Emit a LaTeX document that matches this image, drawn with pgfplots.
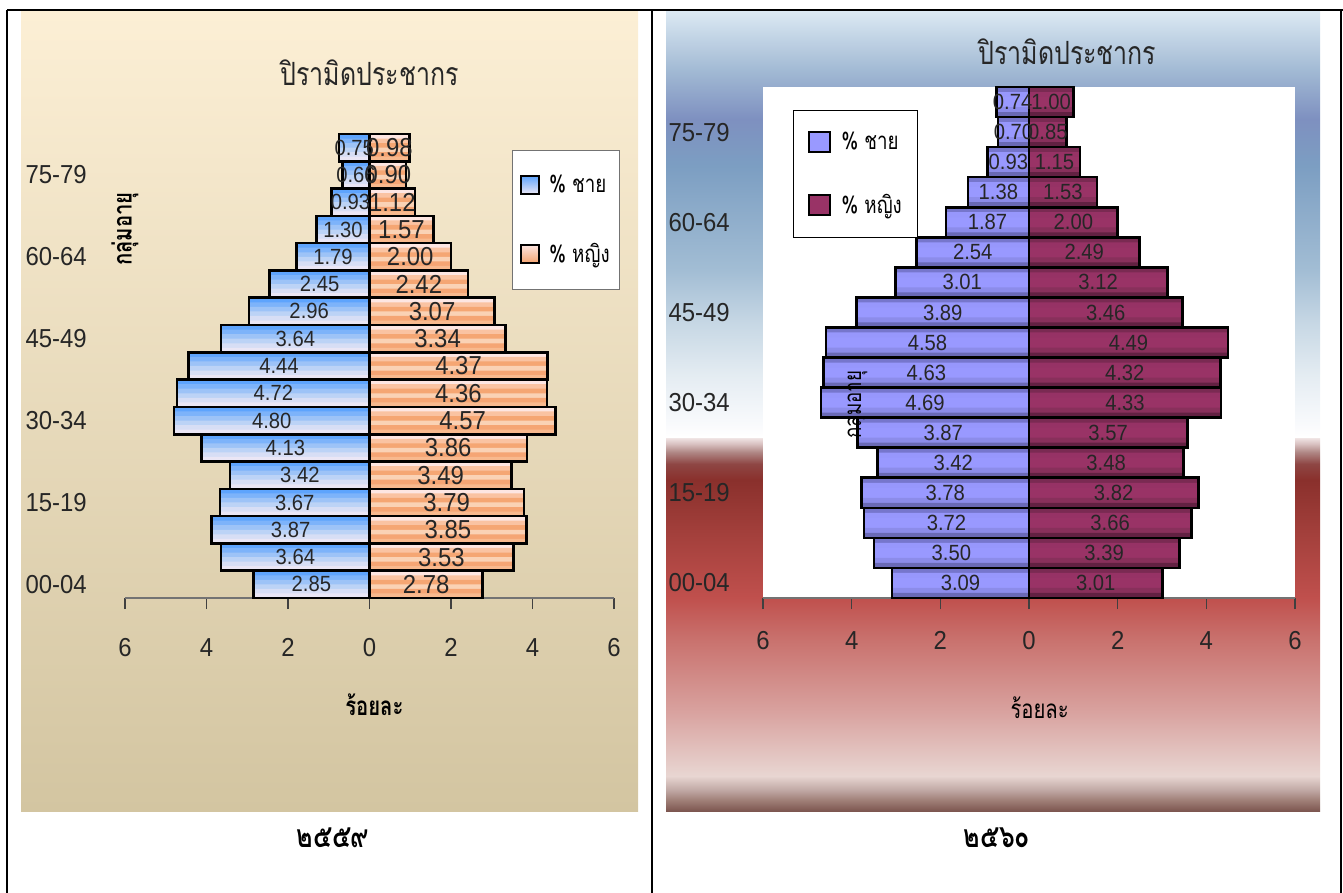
\documentclass[border=0pt]{standalone}
\usepackage{fontspec}
\usepackage{pgfplots}
\usepackage{pgfplotstable}
\pgfplotsset{compat=1.18}
\setmainfont{Liberation Sans}[FakeStretch=0.92]
\newfontfamily\thai[Script=Thai,FakeStretch=0.78]{Loma}

% left background / bars (2559)
\definecolor{lbgT}{HTML}{FCEFD5}
\definecolor{lbgB}{HTML}{D3C5A1}
\definecolor{lmA}{HTML}{5EA4FD}\definecolor{lmB}{HTML}{7DB3FA}\definecolor{lmC}{HTML}{9DC3F7}
\definecolor{lmD}{HTML}{BCD3F6}\definecolor{lmE}{HTML}{D7DEF5}\definecolor{lmF}{HTML}{EAE6F5}
\definecolor{lfA}{HTML}{FDE6E2}\definecolor{lfB}{HTML}{FAC3A2}\definecolor{lfC}{HTML}{F5A673}
\definecolor{lfD}{HTML}{FAD2B5}\definecolor{lfE}{HTML}{F5A574}\definecolor{lfF}{HTML}{F8B98E}
% right (2560)
\definecolor{rmA}{HTML}{7676CC}\definecolor{rmB}{HTML}{9797FC}\definecolor{rmC}{HTML}{9999FF}
\definecolor{rmD}{HTML}{9999FF}\definecolor{rmE}{HTML}{8C8CEA}\definecolor{rmF}{HTML}{6A6AB6}
\definecolor{rfA}{HTML}{7A2A52}\definecolor{rfB}{HTML}{963265}\definecolor{rfC}{HTML}{993366}
\definecolor{rfD}{HTML}{993366}\definecolor{rfE}{HTML}{88305B}\definecolor{rfF}{HTML}{622142}

\definecolor{r01}{HTML}{7D5650}\definecolor{r02}{HTML}{A08078}\definecolor{r03}{HTML}{C0A8A4}
\definecolor{r04}{HTML}{E8D6D2}\definecolor{r05}{HTML}{D9A3A0}\definecolor{r06}{HTML}{C9726E}
\definecolor{r07}{HTML}{C0504D}\definecolor{r08}{HTML}{A23F3B}\definecolor{r09}{HTML}{8A302C}
\definecolor{r10}{HTML}{8E4644}\definecolor{r11}{HTML}{B08886}\definecolor{r12}{HTML}{D8C0C0}
\definecolor{r13}{HTML}{F0E4E4}\definecolor{r14}{HTML}{FFFFFF}\definecolor{r15}{HTML}{FAFBFD}
\definecolor{r16}{HTML}{E4ECF2}\definecolor{r17}{HTML}{C6D7E4}\definecolor{r18}{HTML}{A2BDD4}
\definecolor{r19}{HTML}{7C9EC2}\definecolor{r20}{HTML}{7E90C0}\definecolor{r21}{HTML}{A2BAD4}
\definecolor{r22}{HTML}{DCE9F3}

\pgfdeclareverticalshading{rbg}{100bp}{color(0bp)=(r01); color(25bp)=(r01);
  color(25.69bp)=(r02); color(26.31bp)=(r03); color(27.19bp)=(r04); color(31.13bp)=(r05);
  color(35.69bp)=(r06); color(38.31bp)=(r07); color(42.5bp)=(r08); color(45.69bp)=(r09);
  color(46.69bp)=(r10); color(47.44bp)=(r11); color(47.94bp)=(r12); color(48.31bp)=(r13);
  color(48.375bp)=(r14); color(49bp)=(r15); color(52.25bp)=(r16); color(55.56bp)=(r17);
  color(58.81bp)=(r18); color(65.31bp)=(r19); color(68.25bp)=(r20); color(71.31bp)=(r21);
  color(75bp)=(r22); color(100bp)=(r22)}

% g: age group (1 = 00-04 ... 17 = 80+), m: % male, f: % female
\pgfplotstableread{
g  m     f
1  2.85  2.78
2  3.64  3.53
3  3.87  3.85
4  3.67  3.79
5  3.42  3.49
6  4.13  3.86
7  4.80  4.57
8  4.72  4.36
9  4.44  4.37
10 3.64  3.34
11 2.96  3.07
12 2.45  2.42
13 1.79  2.00
14 1.30  1.57
15 0.93  1.12
16 0.66  0.90
17 0.75  0.98
}\dataL

\pgfplotstableread{
g  m     f
1  3.09  3.01
2  3.50  3.39
3  3.72  3.66
4  3.78  3.82
5  3.42  3.48
6  3.87  3.57
7  4.69  4.33
8  4.63  4.32
9  4.58  4.49
10 3.89  3.46
11 3.01  3.12
12 2.54  2.49
13 1.87  2.00
14 1.38  1.53
15 0.93  1.15
16 0.70  0.85
17 0.74  1.00
}\dataR

% nested bars, each one from a lower edge up to the bar's bottom: a stepped vertical gradient
\newcommand\band[5]{\addplot[xbar, forget plot, bar width=#3, bar shift=#4,
  fill=#5, draw=none] table[x expr=#2, y=g] {#1};}
\newcommand\bandset[3]{%
  \band{#1}{#2}{1}{0}{#3A}%
  \band{#1}{#2}{0.8333}{-0.0833}{#3B}%
  \band{#1}{#2}{0.6667}{-0.1667}{#3C}%
  \band{#1}{#2}{0.5}{-0.25}{#3D}%
  \band{#1}{#2}{0.3333}{-0.3333}{#3E}%
  \band{#1}{#2}{0.1667}{-0.4167}{#3F}}
\newcommand\outline[2]{\addplot[xbar, forget plot, bar width=1, bar shift=0,
  fill=none, draw=black, line width=2.6pt] table[x expr=#2, y=g] {#1};}
\newcommand\labels[4]{\addplot[forget plot, draw=none, mark=none, point meta=explicit,
  nodes near coords={\pgfmathprintnumber[fixed,fixed zerofill,precision=2]{\pgfplotspointmeta}},
  every node near coord/.append style={anchor=center, inner sep=0pt, text=black!85,
  font=\fontsize{#4}{#4}\selectfont}] table[x expr=#2, y=g, meta=#3] {#1};}

\pgfplotsset{pyr/.style={
  scale only axis, clip=false, anchor=south west,
  xmin=-6, xmax=6, ymin=0.5, ymax=17.5,
  axis x line*=bottom, axis y line*=left,
  y axis line style={draw=none},
  x axis line style={draw=black!55, line width=2pt},
  tick align=outside, major tick length=11pt,
  xtick={-6,-4,...,6}, xticklabels={6,4,2,0,2,4,6},
  xtick style={draw=black!75, line width=1.2pt},
  ytick={1,4,...,16}, yticklabels={00-04,15-19,30-34,45-49,60-64,75-79},
  ytick style={draw=none},
  tick label style={font=\fontsize{26}{26}\selectfont, text=black!85, inner sep=0pt},
  /pgf/number format/assume math mode=true,
  legend cell align=left,
}}

\begin{document}
\begin{tikzpicture}[x=1pt,y=1pt]
\useasboundingbox (0,0) rectangle (1343,892);

% chart backgrounds
\shade[top color=lbgT, bottom color=lbgB] (21,81) rectangle (638,881);
\shade[shading=rbg] (666,81) rectangle (1320,881);

% table rules
\draw[line width=2pt] (7,882) -- (1343,882);
\draw[line width=2pt] (7,882) -- (7,-2);
\draw[line width=2pt] (652,882) -- (652,-2);
\draw[line width=2pt] (1341,882) -- (1341,-2);

% ---- 2559 ----
\begin{axis}[pyr, at={(125pt,294pt)}, width=489pt, height=464pt,
  xticklabel style={yshift=-29pt},
  yticklabel style={xshift=-27pt},
  title={\thai ปิรามิดประชากร},
  title style={at={(axis description cs:0.5,1.12)}, anchor=center,
    font=\thai\fontsize{32}{32}\selectfont, text=black!85},
  xlabel={\thai\bfseries ร้อยละ},
  xlabel style={at={(axis description cs:0.51,0)}, anchor=center, yshift=-107pt,
    font=\fontsize{26}{26}\selectfont},
  ylabel={\thai\bfseries กลุ่มอายุ},
  ylabel style={at={(axis description cs:0.0,0.795)}, anchor=center,
    font=\fontsize{26}{26}\selectfont},
  legend style={at={(axis description cs:0.791,0.966)}, anchor=north west,
    fill=white, draw=black!55, line width=1pt, inner xsep=8pt, inner ysep=23pt,
    row sep=45pt, font=\thai\fontsize{24}{24}\selectfont,
    /tikz/every odd column/.append style={column sep=7pt}},
]
\bandset{\dataL}{-\thisrow{m}}{lm}
\bandset{\dataL}{\thisrow{f}}{lf}
\outline{\dataL}{-\thisrow{m}}
\outline{\dataL}{\thisrow{f}}
\labels{\dataL}{-\thisrow{m}/2}{m}{22}
\labels{\dataL}{\thisrow{f}/2}{f}{26}
\addlegendimage{legend image code/.code={\draw[line width=2pt, top color=lmA,
  bottom color=lmF] (0pt,-9pt) rectangle (18pt,9pt);}}
\addlegendentry{\% ชาย}
\addlegendimage{legend image code/.code={\draw[line width=2pt, top color=lfA,
  bottom color=lfC] (0pt,-9pt) rectangle (18pt,9pt);}}
\addlegendentry{\% หญิง}
\end{axis}

% ---- 2560 ----
\begin{axis}[pyr, at={(763pt,294pt)}, width=532pt, height=511pt,
  axis background/.style={fill=white},
  xticklabel style={yshift=-22pt},
  yticklabel style={xshift=-22pt},
  title={\thai ปิรามิดประชากร},
  title style={at={(axis description cs:0.572,1.058)}, anchor=center,
    font=\thai\fontsize{32}{32}\selectfont, text=black!85},
  xlabel={\thai ร้อยละ},
  xlabel style={at={(axis description cs:0.52,0)}, anchor=center, yshift=-110pt,
    font=\fontsize{26}{26}\selectfont},
  ylabel={\thai กลุ่มอายุ},
  ylabel style={at={(axis description cs:0.173,0.378)}, anchor=center,
    font=\fontsize{24}{24}\selectfont},
  legend style={at={(axis description cs:0.0564,0.955)}, anchor=north west,
    fill=white, draw=black, line width=1pt, inner xsep=14pt, inner ysep=20pt,
    row sep=39pt, font=\thai\fontsize{24}{24}\selectfont,
    /tikz/every odd column/.append style={column sep=9pt}},
]
\bandset{\dataR}{-\thisrow{m}}{rm}
\bandset{\dataR}{\thisrow{f}}{rf}
\outline{\dataR}{-\thisrow{m}}
\outline{\dataR}{\thisrow{f}}
\labels{\dataR}{-\thisrow{m}/2}{m}{22}
\labels{\dataR}{\thisrow{f}/2}{f}{22}
\addlegendimage{legend image code/.code={\draw[line width=2pt, fill=rmC]
  (0pt,-10pt) rectangle (21pt,10pt);}}
\addlegendentry{\% ชาย}
\addlegendimage{legend image code/.code={\draw[line width=2pt, fill=rfC]
  (0pt,-10pt) rectangle (21pt,10pt);}}
\addlegendentry{\% หญิง}
\end{axis}

% year captions
\node[font=\thai\bfseries\fontsize{32}{32}\selectfont] at (333,54) {๒๕๕๙};
\node[font=\thai\bfseries\fontsize{32}{32}\selectfont] at (997,54) {๒๕๖๐};
\end{tikzpicture}
\end{document}
